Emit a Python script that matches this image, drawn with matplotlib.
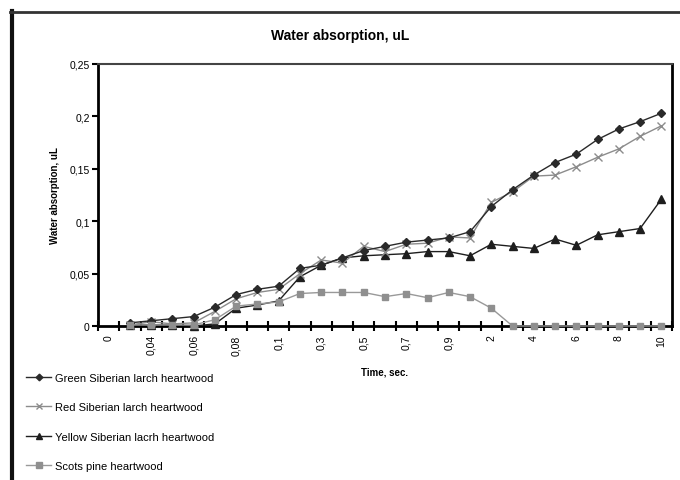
import numpy as np
import matplotlib
matplotlib.use("Agg")
import matplotlib.pyplot as plt
from matplotlib.lines import Line2D

plt.rcParams['font.family'] = ['Liberation Sans', 'DejaVu Sans']

categories = ["0", "0,02", "0,04", "0,05", "0,06", "0,07", "0,08", "0,09", "0,1",
              "0,2", "0,3", "0,4", "0,5", "0,6", "0,7", "0,8", "0,9", "1",
              "2", "3", "4", "5", "6", "7", "8", "9", "10"]
shown_labels = ["0", "0,04", "0,06", "0,08", "0,1", "0,3", "0,5", "0,7", "0,9",
                "2", "4", "6", "8", "10"]

green = [np.nan, 0.003, 0.005, 0.007, 0.009, 0.018, 0.030, 0.035, 0.038,
         0.055, 0.058, 0.065, 0.072, 0.076, 0.080, 0.082, 0.084, 0.090,
         0.114, 0.130, 0.144, 0.156, 0.164, 0.178, 0.188, 0.195, 0.203]
red = [np.nan, 0.001, 0.004, 0.002, 0.003, 0.014, 0.026, 0.032, 0.035,
       0.050, 0.063, 0.060, 0.076, 0.071, 0.078, 0.079, 0.085, 0.084,
       0.118, 0.128, 0.143, 0.144, 0.152, 0.161, 0.169, 0.181, 0.191]
yellow = [np.nan, 0.001, 0.001, 0.001, 0.000, 0.002, 0.017, 0.020, 0.024,
          0.047, 0.058, 0.065, 0.067, 0.068, 0.069, 0.071, 0.071, 0.067,
          0.078, 0.076, 0.074, 0.083, 0.077, 0.087, 0.090, 0.093, 0.121]
scots = [np.nan, 0.001, 0.001, 0.001, 0.001, 0.006, 0.019, 0.021, 0.023,
         0.031, 0.032, 0.032, 0.032, 0.028, 0.031, 0.027, 0.032, 0.028,
         0.017, 0.000, 0.000, 0.000, 0.000, 0.000, 0.000, 0.000, 0.000]

series_names = ["Green Siberian larch heartwood", "Red Siberian larch heartwood",
                "Yellow Siberian lacrh heartwood", "Scots pine heartwood"]

yticks = [0, 0.05, 0.10, 0.15, 0.20, 0.25]
ytick_labels = ["0", "0,05", "0,1", "0,15", "0,2", "0,25"]

W, H = 680, 481
fig = plt.figure(figsize=(W / 100, H / 100), dpi=100)
ax = fig.add_axes([98 / W, 1 - 327 / H, 574 / W, 262 / H])

x = np.arange(len(categories))
l1, = ax.plot(x, green, color='#2a2a2a', lw=1.0, marker='D', ms=4.5,
              mfc='#2a2a2a', mec='#2a2a2a', zorder=5, clip_on=False)
l2, = ax.plot(x, red, color='#8c8c8c', lw=1.0, marker='x', ms=6, mew=1.0,
              mec='#8c8c8c', zorder=4, clip_on=False)
l3, = ax.plot(x, yellow, color='#1e1e1e', lw=1.0, marker='^', ms=6,
              mfc='#1e1e1e', mec='#1e1e1e', zorder=3, clip_on=False)
l4, = ax.plot(x, scots, color='#999999', lw=1.0, marker='s', ms=5,
              mfc='#8f8f8f', mec='#8f8f8f', zorder=6, clip_on=False)

ax.set_xlim(-0.5, len(categories) - 0.5)
ax.set_ylim(0, 0.25)

# category boundary ticks
ax.set_xticks(np.arange(len(categories) + 1) - 0.5)
ax.set_xticklabels([])
ax.tick_params(axis='x', which='major', direction='inout', length=7, width=1.5,
               color='black')
# labels at category centres
ax.set_xticks(x[::2], minor=True)
ax.set_xticklabels(shown_labels, minor=True, rotation=90, fontsize=7.5, va='top')
ax.tick_params(axis='x', which='minor', length=0, pad=6)

ax.set_yticks(yticks)
ax.set_yticklabels(ytick_labels, fontsize=7.5)
ax.tick_params(axis='y', direction='out', length=4, width=1.5, pad=2)

for s in ['left', 'bottom']:
    ax.spines[s].set_linewidth(2)
    ax.spines[s].set_color('black')
ax.spines['top'].set_linewidth(1.5)
ax.spines['top'].set_color('#444444')
ax.spines['right'].set_linewidth(2)
ax.spines['right'].set_color('black')

ax.set_xlabel("Time, sec.", fontsize=7, fontweight='bold')
ax.xaxis.set_label_coords(0.5, -0.155)
ax.set_ylabel("Water absorption, uL", fontsize=7, fontweight='bold')
ax.yaxis.set_label_coords(-0.066, 0.5)

fig.text(340 / W, 1 - 36 / H, "Water absorption, uL", fontsize=10,
         fontweight='bold', ha='center', va='center')

# outer chart frame (left and top edges)
fig.add_artist(Line2D([11.5 / W, 11.5 / W], [0, 1 - 12 / H], color='#111111',
                      lw=3, transform=fig.transFigure))
fig.add_artist(Line2D([10 / W, 1], [1 - 13 / H, 1 - 13 / H], color='#333333',
                      lw=2, transform=fig.transFigure))

leg = fig.legend([l1, l2, l3, l4], series_names, loc='upper left',
                 bbox_to_anchor=(18 / W, 1 - 366 / H), frameon=False,
                 fontsize=8, labelspacing=1.75, handlelength=2.3,
                 handletextpad=0.3, borderpad=0.2, markerscale=0.75)

fig.savefig("out.png", dpi=100)
